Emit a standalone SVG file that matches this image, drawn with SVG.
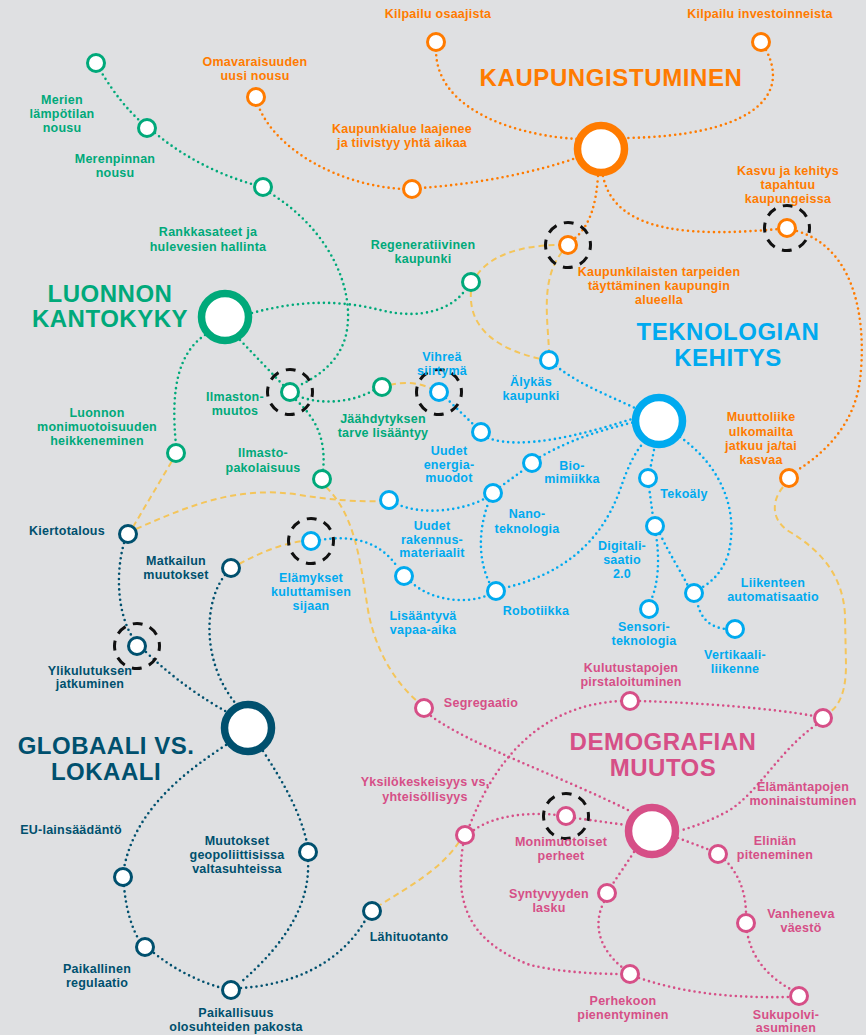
<svg xmlns="http://www.w3.org/2000/svg" width="866" height="1035" viewBox="0 0 866 1035">
<style>
text{font-family:"Liberation Sans",Arial,sans-serif;font-weight:bold;font-size:12.5px;letter-spacing:.25px;text-anchor:middle}
.t{font-size:24px;letter-spacing:.5px}
.n{fill:#fff;stroke-width:3}
.h{fill:#fff;stroke-width:7.5}
.ring{fill:none;stroke:#111;stroke-width:3;stroke-dasharray:10 7.67;stroke-dashoffset:5}
.dot{fill:none;stroke-width:2.6;stroke-linecap:round;stroke-dasharray:0 5.2}
.dash{fill:none;stroke:#F4C55A;stroke-width:2;stroke-dasharray:6 4}
.o{stroke:#FF7B00}.og{fill:#FF7B00}
.g{stroke:#00A97A}.gg{fill:#00A97A}
.b{stroke:#00AAEF}.bb{fill:#00AAEF}
.d{stroke:#00506E}.dd{fill:#00506E}
.p{stroke:#D64F87}.pp{fill:#D64F87}
</style>
<rect width="866" height="1035" fill="#DFE0E2"/>
<g id="connectors">
<g class="dot o">
<path d="M436,50 C436,112 520,136 578,139"/>
<path d="M766,50 C792,100 745,136 626,138"/>
<path d="M258,105 C275,150 340,186 404,189"/>
<path d="M420,188 C480,184 540,171 576,158"/>
<path d="M598,176 C596,205 590,226 574,239"/>
<path d="M603,176 C615,236 700,236 779,229"/>
<path d="M797,231 C860,250 866,330 860,380 C855,420 830,450 796,471"/>
</g>
<g class="dot g">
<path d="M100,70 C115,95 128,110 141,122"/>
<path d="M155,133 C185,158 220,175 255,185"/>
<path d="M270,193 C330,230 356,290 346,335 C340,360 320,376 298,386"/>
<path d="M252,313 C300,300 340,300 380,310 C420,320 452,310 466,289"/>
<path d="M240,340 L284,386"/>
<path d="M205,335 C180,352 170,385 176,445"/>
<path d="M298,396 C320,405 352,403 374,390"/>
<path d="M296,400 C318,420 326,442 323,471"/>
</g>
<g class="dash">
<path d="M390,385 C405,381 420,383 432,389"/>
<path d="M477,275 C490,256 520,245 560,245"/>
<path d="M471,291 C468,330 500,350 541,359"/>
<path d="M562,252 C540,280 548,320 549,352"/>
<path d="M133,527 L172,461"/>
<path d="M136,529 C190,505 240,485 300,495 C330,500 360,502 381,501"/>
<path d="M326,487 C355,515 360,560 368,610 C375,650 395,682 417,701"/>
<path d="M239,564 C260,553 280,544 303,541"/>
<path d="M783,487 C772,500 770,520 790,532 C820,550 843,575 845,615 L846,665 C846,690 840,705 830,712"/>
<path d="M459,842 C440,870 410,886 380,905"/>
</g>
<g class="dot b">
<path d="M446,398 L475,426"/>
<path d="M488,438 C520,450 580,436 635,418"/>
<path d="M556,366 C580,385 610,396 637,409"/>
<path d="M540,457 C570,440 600,430 635,422"/>
<path d="M500,487 L525,469"/>
<path d="M397,504 C420,515 460,512 486,498"/>
<path d="M489,501 C478,530 478,560 490,584"/>
<path d="M320,540 C350,535 380,540 398,568"/>
<path d="M411,582 C430,600 465,605 488,595"/>
<path d="M504,588 C560,575 600,545 620,490 C628,466 635,452 645,441"/>
<path d="M655,445 L650,470"/>
<path d="M649,487 L653,517"/>
<path d="M656,535 C660,560 658,585 651,600"/>
<path d="M660,534 C670,555 680,570 688,586"/>
<path d="M697,601 C700,618 710,628 727,629"/>
<path d="M680,437 C720,465 740,510 728,555 C722,572 712,582 701,588"/>
</g>
<g class="dot d">
<path d="M124,543 C115,575 118,615 133,638"/>
<path d="M146,652 C175,680 205,700 227,712"/>
<path d="M225,575 C205,600 200,660 236,704"/>
<path d="M226,745 C180,775 135,812 124,868"/>
<path d="M263,751 C285,785 300,812 307,843"/>
<path d="M124,886 C126,910 132,928 139,940"/>
<path d="M154,953 C175,970 200,982 222,988"/>
<path d="M308,861 C310,900 290,940 240,983"/>
<path d="M241,988 C290,985 340,965 366,919"/>
</g>
<g class="dot p">
<path d="M431,716 C470,745 560,776 628,810"/>
<path d="M621,701 C540,705 495,760 469,827"/>
<path d="M640,701 C700,703 770,708 814,716"/>
<path d="M816,725 C780,750 760,790 730,810 C712,820 696,826 679,831"/>
<path d="M474,830 C495,815 530,812 557,815"/>
<path d="M575,818 L626,825"/>
<path d="M678,838 L710,850"/>
<path d="M634,852 C625,866 618,876 612,885"/>
<path d="M604,902 C592,925 600,950 623,968"/>
<path d="M463,845 C455,900 465,940 530,965 C560,972 595,974 621,974"/>
<path d="M639,978 C690,995 740,998 790,997"/>
<path d="M725,860 C740,875 746,895 746,914"/>
<path d="M747,932 C752,960 770,978 792,990"/>
</g>
</g>

<!-- Orange -->
<g id="hub-kaupungistuminen"><circle class="h o" cx="601" cy="149" r="23.5"/><text class="t og" x="611" y="86" style="letter-spacing:.6px">KAUPUNGISTUMINEN</text></g>
<g id="n-kilpailu-osaajista"><circle class="n o" cx="436" cy="42" r="8.5"/><text class="og" x="438" y="18">Kilpailu osaajista</text></g>
<g id="n-kilpailu-investoinneista"><circle class="n o" cx="761" cy="42" r="8.5"/><text class="og" x="760" y="18">Kilpailu investoinneista</text></g>
<g id="n-omavaraisuus"><circle class="n o" cx="256" cy="97" r="8.5"/><text class="og"><tspan x="255" y="66">Omavaraisuuden</tspan><tspan x="255" y="80">uusi nousu</tspan></text></g>
<g id="n-kaupunkialue"><circle class="n o" cx="412" cy="189" r="8.5"/><text class="og"><tspan x="402" y="133">Kaupunkialue laajenee</tspan><tspan x="402" y="147">ja tiivistyy yhtä aikaa</tspan></text></g>
<g id="n-kaupunkilaisten"><circle class="ring" cx="568" cy="245" r="22.5"/><circle class="n o" cx="568" cy="245" r="8.5"/><text class="og"><tspan x="659" y="276">Kaupunkilaisten tarpeiden</tspan><tspan x="659" y="290">täyttäminen kaupungin</tspan><tspan x="659" y="304">alueella</tspan></text></g>
<g id="n-kasvu"><circle class="ring" cx="787" cy="228" r="22.5"/><circle class="n o" cx="787" cy="228" r="8.5"/><text class="og"><tspan x="788" y="175">Kasvu ja kehitys</tspan><tspan x="788" y="189">tapahtuu</tspan><tspan x="788" y="203">kaupungeissa</tspan></text></g>
<g id="n-muuttoliike"><circle class="n o" cx="789" cy="478" r="8.5"/><text class="og"><tspan x="761" y="421">Muuttoliike</tspan><tspan x="761" y="435.5">ulkomailta</tspan><tspan x="761" y="450">jatkuu ja/tai</tspan><tspan x="761" y="464">kasvaa</tspan></text></g>

<!-- Green -->
<g id="hub-luonnon"><circle class="h g" cx="225" cy="317" r="23.5"/><text class="t gg"><tspan x="110" y="302">LUONNON</tspan><tspan x="110" y="327">KANTOKYKY</tspan></text></g>
<g id="n-merien"><circle class="n g" cx="96" cy="63" r="8.5"/><text class="gg"><tspan x="62" y="104">Merien</tspan><tspan x="62" y="118">lämpötilan</tspan><tspan x="62" y="132">nousu</tspan></text></g>
<g id="n-merenpinta"><circle class="n g" cx="147" cy="128" r="8.5"/><text class="gg"><tspan x="115" y="163">Merenpinnan</tspan><tspan x="115" y="177">nousu</tspan></text></g>
<g id="n-rankkasateet"><circle class="n g" cx="263" cy="187" r="8.5"/><text class="gg"><tspan x="208" y="236">Rankkasateet ja</tspan><tspan x="208" y="251">hulevesien hallinta</tspan></text></g>
<g id="n-regeneratiivinen"><circle class="n g" cx="471" cy="282" r="8.5"/><text class="gg"><tspan x="423" y="249">Regeneratiivinen</tspan><tspan x="423" y="263">kaupunki</tspan></text></g>
<g id="n-ilmastonmuutos"><circle class="ring" cx="290" cy="392" r="22.5"/><circle class="n g" cx="290" cy="392" r="8.5"/><text class="gg"><tspan x="235" y="401">Ilmaston-</tspan><tspan x="235" y="415">muutos</tspan></text></g>
<g id="n-jaahdytys"><circle class="n g" cx="382" cy="387" r="8.5"/><text class="gg"><tspan x="383" y="423">Jäähdytyksen</tspan><tspan x="383" y="437">tarve lisääntyy</tspan></text></g>
<g id="n-luonnon-monimuotoisuus"><circle class="n g" cx="176" cy="453" r="8.5"/><text class="gg"><tspan x="97" y="417">Luonnon</tspan><tspan x="97" y="431">monimuotoisuuden</tspan><tspan x="97" y="445">heikkeneminen</tspan></text></g>
<g id="n-ilmastopakolaisuus"><circle class="n g" cx="322" cy="479" r="8.5"/><text class="gg"><tspan x="263" y="457">Ilmasto-</tspan><tspan x="263" y="472">pakolaisuus</tspan></text></g>

<!-- Blue -->
<g id="hub-teknologia"><circle class="h b" cx="659" cy="421" r="23.5"/><text class="t bb"><tspan x="728" y="340">TEKNOLOGIAN</tspan><tspan x="728" y="366">KEHITYS</tspan></text></g>
<g id="n-vihrea"><circle class="ring" cx="439" cy="392" r="22.5"/><circle class="n b" cx="439" cy="392" r="8.5"/><text class="bb"><tspan x="442" y="361">Vihreä</tspan><tspan x="442" y="375">siirtymä</tspan></text></g>
<g id="n-alykas"><circle class="n b" cx="549" cy="360" r="8.5"/><text class="bb"><tspan x="531" y="386">Älykäs</tspan><tspan x="531" y="400">kaupunki</tspan></text></g>
<g id="n-energia"><circle class="n b" cx="481" cy="432" r="8.5"/><text class="bb"><tspan x="449" y="455">Uudet</tspan><tspan x="449" y="469">energia-</tspan><tspan x="449" y="482">muodot</tspan></text></g>
<g id="n-biomimiikka"><circle class="n b" cx="532" cy="463" r="8.5"/><text class="bb"><tspan x="572" y="470">Bio-</tspan><tspan x="572" y="483">mimiikka</tspan></text></g>
<g id="n-nano"><circle class="n b" cx="493" cy="493" r="8.5"/><text class="bb"><tspan x="527" y="518">Nano-</tspan><tspan x="527" y="533">teknologia</tspan></text></g>
<g id="n-rakennus"><circle class="n b" cx="389" cy="500" r="8.5"/><text class="bb"><tspan x="432" y="530">Uudet</tspan><tspan x="432" y="544">rakennus-</tspan><tspan x="432" y="557">materiaalit</tspan></text></g>
<g id="n-elamykset"><circle class="ring" cx="311" cy="541" r="22.5"/><circle class="n b" cx="311" cy="541" r="8.5"/><text class="bb"><tspan x="311" y="582">Elämykset</tspan><tspan x="311" y="596">kuluttamisen</tspan><tspan x="311" y="610">sijaan</tspan></text></g>
<g id="n-vapaa-aika"><circle class="n b" cx="404" cy="576" r="8.5"/><text class="bb"><tspan x="423" y="620">Lisääntyvä</tspan><tspan x="423" y="634">vapaa-aika</tspan></text></g>
<g id="n-robotiikka"><circle class="n b" cx="496" cy="591" r="8.5"/><text class="bb" x="536" y="615">Robotiikka</text></g>
<g id="n-tekoaly"><circle class="n b" cx="648" cy="478" r="8.5"/><text class="bb" x="684" y="498">Tekoäly</text></g>
<g id="n-digitalisaatio"><circle class="n b" cx="655" cy="526" r="8.5"/><text class="bb"><tspan x="622" y="550">Digitali-</tspan><tspan x="622" y="564">saatio</tspan><tspan x="622" y="578">2.0</tspan></text></g>
<g id="n-sensori"><circle class="n b" cx="649" cy="609" r="8.5"/><text class="bb"><tspan x="644" y="631">Sensori-</tspan><tspan x="644" y="645">teknologia</tspan></text></g>
<g id="n-liikenne"><circle class="n b" cx="694" cy="593" r="8.5"/><text class="bb"><tspan x="773" y="587">Liikenteen</tspan><tspan x="773" y="601">automatisaatio</tspan></text></g>
<g id="n-vertikaali"><circle class="n b" cx="735" cy="629" r="8.5"/><text class="bb"><tspan x="735" y="659">Vertikaali-</tspan><tspan x="735" y="673">liikenne</tspan></text></g>

<!-- Dark blue -->
<g id="hub-globaali"><circle class="h d" cx="248" cy="728" r="23.5"/><text class="t dd"><tspan x="106" y="754">GLOBAALI VS.</tspan><tspan x="106" y="780">LOKAALI</tspan></text></g>
<g id="n-kiertotalous"><circle class="n d" cx="128" cy="534" r="8.5"/><text class="dd" x="67" y="535">Kiertotalous</text></g>
<g id="n-matkailu"><circle class="n d" cx="231" cy="568" r="8.5"/><text class="dd"><tspan x="176" y="565">Matkailun</tspan><tspan x="176" y="579">muutokset</tspan></text></g>
<g id="n-ylikulutus"><circle class="ring" cx="137" cy="646" r="22.5"/><circle class="n d" cx="137" cy="646" r="8.5"/><text class="dd"><tspan x="90" y="675">Ylikulutuksen</tspan><tspan x="90" y="688">jatkuminen</tspan></text></g>
<g id="n-eu"><circle class="n d" cx="123" cy="877" r="8.5"/><text class="dd" x="71" y="834">EU-lainsäädäntö</text></g>
<g id="n-geopolitiikka"><circle class="n d" cx="308" cy="852" r="8.5"/><text class="dd"><tspan x="237" y="845">Muutokset</tspan><tspan x="237" y="859">geopoliittisissa</tspan><tspan x="237" y="873">valtasuhteissa</tspan></text></g>
<g id="n-paikallinen"><circle class="n d" cx="145" cy="947" r="8.5"/><text class="dd"><tspan x="97" y="973">Paikallinen</tspan><tspan x="97" y="987">regulaatio</tspan></text></g>
<g id="n-paikallisuus"><circle class="n d" cx="231" cy="990" r="8.5"/><text class="dd"><tspan x="236" y="1017">Paikallisuus</tspan><tspan x="236" y="1031">olosuhteiden pakosta</tspan></text></g>
<g id="n-lahituotanto"><circle class="n d" cx="372" cy="911" r="8.5"/><text class="dd" x="409" y="941">Lähituotanto</text></g>

<!-- Pink -->
<g id="hub-demografia"><circle class="h p" cx="652" cy="831" r="23.5"/><text class="t pp"><tspan x="663" y="750">DEMOGRAFIAN</tspan><tspan x="663" y="776">MUUTOS</tspan></text></g>
<g id="n-segregaatio"><circle class="n p" cx="424" cy="708" r="8.5"/><text class="pp" x="481" y="707">Segregaatio</text></g>
<g id="n-kulutustavat"><circle class="n p" cx="630" cy="701" r="8.5"/><text class="pp"><tspan x="631" y="672">Kulutustapojen</tspan><tspan x="631" y="686">pirstaloituminen</tspan></text></g>
<g id="n-elamantavat"><circle class="n p" cx="823" cy="718" r="8.5"/><text class="pp"><tspan x="803" y="791">Elämäntapojen</tspan><tspan x="803" y="805">moninaistuminen</tspan></text></g>
<g id="n-yksilo"><circle class="n p" cx="465" cy="835" r="8.5"/><text class="pp"><tspan x="425" y="786">Yksilökeskeisyys vs.</tspan><tspan x="425" y="801">yhteisöllisyys</tspan></text></g>
<g id="n-monimuotoiset"><circle class="ring" cx="566" cy="816" r="22.5"/><circle class="n p" cx="566" cy="816" r="8.5"/><text class="pp"><tspan x="561" y="846">Monimuotoiset</tspan><tspan x="561" y="860">perheet</tspan></text></g>
<g id="n-elinika"><circle class="n p" cx="718" cy="854" r="8.5"/><text class="pp"><tspan x="775" y="845">Eliniän</tspan><tspan x="775" y="859">piteneminen</tspan></text></g>
<g id="n-syntyvyys"><circle class="n p" cx="607" cy="893" r="8.5"/><text class="pp"><tspan x="549" y="898">Syntyvyyden</tspan><tspan x="549" y="912">lasku</tspan></text></g>
<g id="n-vanheneva"><circle class="n p" cx="746" cy="923" r="8.5"/><text class="pp"><tspan x="801" y="918">Vanheneva</tspan><tspan x="801" y="932">väestö</tspan></text></g>
<g id="n-perhekoko"><circle class="n p" cx="630" cy="974" r="8.5"/><text class="pp"><tspan x="623" y="1005">Perhekoon</tspan><tspan x="623" y="1019">pienentyminen</tspan></text></g>
<g id="n-sukupolvi"><circle class="n p" cx="799" cy="996" r="8.5"/><text class="pp"><tspan x="786" y="1019">Sukupolvi-</tspan><tspan x="786" y="1032">asuminen</tspan></text></g>
</svg>
